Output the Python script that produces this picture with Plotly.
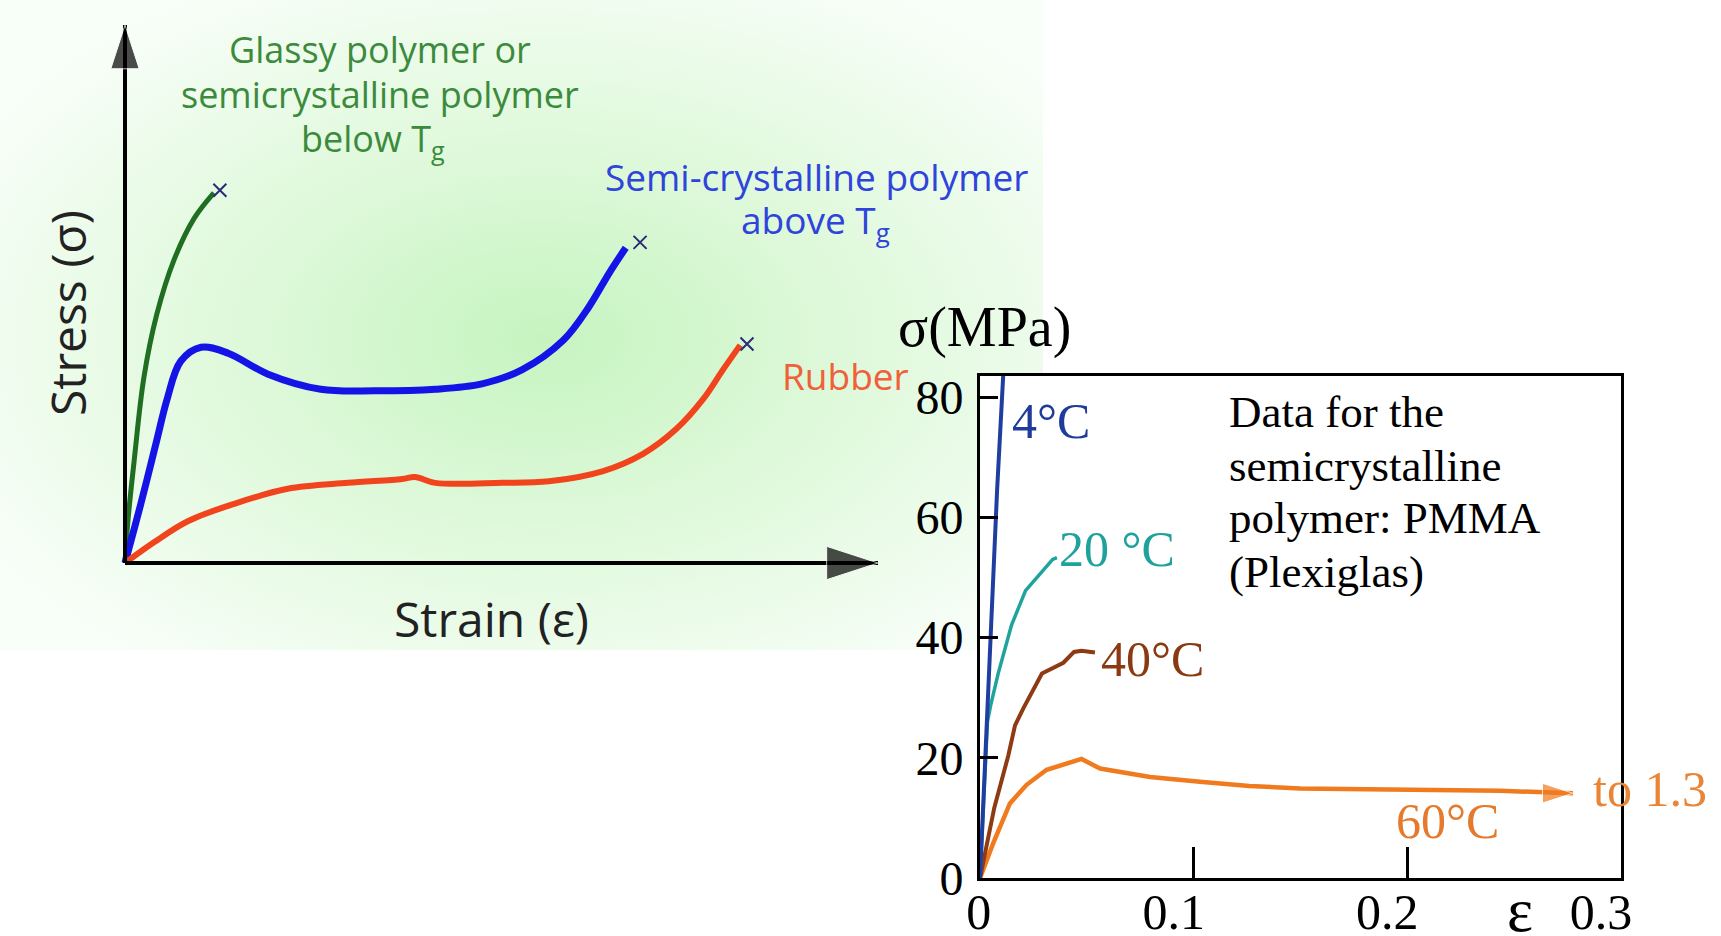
import base64
import plotly.graph_objects as go

W, H = 1721, 936

# ---------------- left schematic: stress-strain (arbitrary units, 0-100) ----------------
glassy_x = [0, 0.4, 1.2, 2.5, 4.2, 6.5, 9.2, 11.8]
glassy_y = [0, 8.0, 18.8, 34.4, 46.1, 56.3, 64.1, 68.8]
semi_x = [0, 2.1, 4.2, 5.6, 7.4, 10.1, 13.7, 19.0, 26.0, 33.2, 41.2, 47.4, 52.7, 58.2, 61.6, 64.3, 66.5]
semi_y = [0, 11.0, 22.7, 30.5, 37.5, 40.1, 39.0, 35.1, 32.3, 32.0, 32.3, 33.3, 35.9, 41.4, 47.6, 53.9, 58.6]
rubber_x = [0, 3.9, 8.4, 14.5, 21.6, 29.6, 36.8, 38.5, 41.2, 50.1, 56.3, 63.5, 68.8, 73.2, 76.8, 79.4, 81.7]
rubber_y = [0, 3.9, 7.8, 11.0, 13.8, 14.9, 15.6, 16.0, 14.9, 14.9, 15.2, 17.1, 20.3, 24.9, 30.5, 35.9, 40.5]
break_x = [12.6, 68.4, 82.6]
break_y = [69.3, 59.6, 40.7]
axis_len = [0, 100]

# ---------------- right chart: PMMA data ----------------
t4_x = [0, 0.0080, 0.0110]
t4_y = [0, 64.5, 84.5]
t20_x = [0, 0.0035, 0.0051, 0.0085, 0.0116, 0.0148, 0.0213, 0.0281, 0.0340, 0.0360]
t20_y = [0, 26.0, 28.9, 34.0, 38.0, 42.1, 47.8, 50.6, 53.0, 53.3]
t40_x = [0, 0.0067, 0.0132, 0.0164, 0.0204, 0.0290, 0.0390, 0.0440, 0.0475, 0.0538]
t40_y = [0, 11.7, 20.3, 25.4, 28.3, 34.0, 35.8, 37.6, 37.8, 37.5]
t60_x = [0, 0.0062, 0.0140, 0.0218, 0.0312, 0.0437, 0.0475, 0.0562, 0.0680, 0.0796,
         0.1030, 0.1260, 0.1498, 0.2000, 0.2434, 0.2775]
t60_y = [0, 5.8, 12.4, 15.5, 18.0, 19.3, 19.8, 18.2, 17.4, 16.8,
         16.0, 15.3, 14.9, 14.6, 14.5, 14.1]
x_ticks = [0, 0.1, 0.2, 0.3]
x_ticklabels = ["\u00a0\u00a0\u00a00", "0.1", "0.2", "0.3"]
y_ticks = [0, 20, 40, 60, 80]
y_ticklabels = ["0", "20", "40", "60", "80"]

SERIF = "Liberation Serif, Times New Roman, serif"
COMIC = "Comic Sans MS, Open Sans, sans-serif"

fig = go.Figure()

# left schematic traces (xaxis2 / yaxis2)
fig.add_trace(go.Scatter(x=glassy_x, y=glassy_y, mode="lines", line=dict(color="#1f6e22", width=5, shape="spline"),
                         xaxis="x2", yaxis="y2", hoverinfo="skip"))
fig.add_trace(go.Scatter(x=semi_x, y=semi_y, mode="lines", line=dict(color="#1414e6", width=7, shape="spline"),
                         xaxis="x2", yaxis="y2", hoverinfo="skip"))
fig.add_trace(go.Scatter(x=rubber_x, y=rubber_y, mode="lines", line=dict(color="#f2441c", width=6, shape="spline"),
                         xaxis="x2", yaxis="y2", hoverinfo="skip"))
fig.add_trace(go.Scatter(x=break_x, y=break_y, mode="markers",
                         marker=dict(symbol="x-thin", size=13, line=dict(color="#2a2a78", width=2)),
                         xaxis="x2", yaxis="y2", hoverinfo="skip"))
# axes with arrows
fig.add_trace(go.Scatter(x=[0, 0], y=axis_len, mode="lines+markers", line=dict(color="black", width=4),
                         marker=dict(symbol=["circle", "arrow"], size=[0, 46], color="black", angle=[0, 0]),
                         xaxis="x2", yaxis="y2", hoverinfo="skip", cliponaxis=False))
fig.add_trace(go.Scatter(x=axis_len, y=[0, 0], mode="lines+markers", line=dict(color="black", width=4),
                         marker=dict(symbol=["circle", "arrow"], size=[0, 54], color="black", angle=[0, 90]),
                         xaxis="x2", yaxis="y2", hoverinfo="skip", cliponaxis=False))

# right chart traces
n60 = len(t60_x)
fig.add_trace(go.Scatter(x=t60_x, y=t60_y, mode="lines+markers", line=dict(color="#f07a1e", width=4.5),
                         marker=dict(symbol=["circle"] * (n60 - 1) + ["arrow"],
                                     size=[0] * (n60 - 1) + [32], color="#f07a1e",
                                     angle=[0] * (n60 - 1) + [90]),
                         hoverinfo="skip"))
fig.add_trace(go.Scatter(x=t40_x, y=t40_y, mode="lines", line=dict(color="#8e3a12", width=4), hoverinfo="skip"))
fig.add_trace(go.Scatter(x=t20_x, y=t20_y, mode="lines", line=dict(color="#1fa39c", width=3.5), hoverinfo="skip"))
fig.add_trace(go.Scatter(x=t4_x, y=t4_y, mode="lines", line=dict(color="#1f3ea0", width=4), hoverinfo="skip"))


def px(x, y):
    return x / W, 1 - y / H


def ann(text, x, y, size, color, family, xanchor="center", angle=0):
    ax, ay = px(x, y)
    return dict(text=text, x=ax, y=ay, xref="paper", yref="paper", showarrow=False,
                font=dict(size=size, color=color, family=family), xanchor=xanchor,
                yanchor="middle", textangle=angle)


GREEN_T = "#3c8a3c"
BLUE_T = "#2e44dc"
annotations = [
    ann("Glassy polymer or", 380, 49, 36, GREEN_T, COMIC),
    ann("semicrystalline polymer", 380, 95, 36, GREEN_T, COMIC),
    ann("below T<sub>g</sub>", 373, 140, 36, GREEN_T, COMIC),
    ann("Semi-crystalline polymer", 816, 176, 37, BLUE_T, COMIC),
    ann("above T<sub>g</sub>", 815, 222, 37, BLUE_T, COMIC),
    ann("Rubber", 845, 375, 37, "#f0603a", COMIC),
    ann("Stress (σ)", 68, 313, 48, "#222222", COMIC, angle=-90),
    ann("Strain (ε)", 491, 618, 48, "#222222", COMIC),
    ann("σ(MPa)", 984, 327, 56, "black", SERIF),
    ann("4°C", 1051, 421, 50, "#1f3c9a", SERIF),
    ann("20 °C", 1117, 549, 50, "#1fa29b", SERIF),
    ann("40°C", 1152, 659, 50, "#8a3a12", SERIF),
    ann("60°C", 1447, 821, 50, "#e57a2c", SERIF),
    ann("to 1.3", 1650, 789, 50, "#ea8536", SERIF),
    ann("Data for the", 1227, 412, 45, "black", SERIF, xanchor="left"),
    ann("semicrystalline", 1227, 466, 45, "black", SERIF, xanchor="left"),
    ann("polymer: PMMA", 1227, 518, 45, "black", SERIF, xanchor="left"),
    ann("(Plexiglas)", 1227, 572, 45, "black", SERIF, xanchor="left"),
    ann("ε", 1520, 910, 62, "black", SERIF),
]

svg = ('<svg xmlns="http://www.w3.org/2000/svg" width="1043" height="650" viewBox="0 0 1043 650" '
       'preserveAspectRatio="none"><defs><radialGradient id="g" cx="0.52" cy="0.52" r="0.62">'
       '<stop offset="0" stop-color="rgb(198,244,192)"/>'
       '<stop offset="0.5" stop-color="rgb(224,249,220)"/>'
       '<stop offset="1" stop-color="rgb(248,254,248)"/>'
       '</radialGradient></defs><rect width="1043" height="650" fill="url(#g)"/></svg>')
svg_uri = "data:image/svg+xml;base64," + base64.b64encode(svg.encode()).decode()

# right plot area in pixels: x 980..1621, y 376..878
rx0, rx1 = px(980, 0)[0], px(1621, 0)[0]
ry0, ry1 = px(0, 878)[1], px(0, 376)[1]

fig.update_layout(
    width=W, height=H, autosize=False,
    margin=dict(l=0, r=0, t=0, b=0, pad=0),
    paper_bgcolor="white", plot_bgcolor="rgba(0,0,0,0)",
    showlegend=False,
    xaxis=dict(domain=[rx0, rx1], range=[0, 0.3], tickmode="array", tickvals=x_ticks, ticktext=x_ticklabels,
               ticks="inside", ticklen=31, tickwidth=3, tickcolor="black",
               showline=True, linewidth=3, linecolor="black", mirror=True,
               showgrid=False, zeroline=False, automargin=False,
               tickfont=dict(family=SERIF, size=50, color="black"),
               ticklabelstandoff=-12, ticklabelshift=-20),
    yaxis=dict(domain=[ry0, ry1], range=[0, 83.5], tickmode="array", tickvals=y_ticks, ticktext=y_ticklabels,
               ticks="inside", ticklen=18, tickwidth=3, tickcolor="black",
               showline=True, linewidth=3, linecolor="black", mirror=True,
               showgrid=False, zeroline=False, automargin=False,
               tickfont=dict(family=SERIF, size=48, color="black"),
               ticklabelstandoff=4),
    xaxis2=dict(domain=[0, 1000 / W], range=[-16.6, 116.2], visible=False, anchor="y2", automargin=False),
    yaxis2=dict(domain=[1 - 650 / H, 1], range=[-16.17, 104.65], visible=False, anchor="x2", automargin=False),
    annotations=annotations,
    images=[dict(source=svg_uri, xref="paper", yref="paper", x=0, y=1, sizex=1043 / W, sizey=650 / H,
                 xanchor="left", yanchor="top", sizing="stretch", layer="below")],
    shapes=[dict(type="rect", xref="x domain", yref="y domain", x0=0, x1=1, y0=0, y1=1,
                 fillcolor="white", line=dict(width=0), layer="below")],
)

fig.write_html("out.html", config={"displayModeBar": False},
               post_script="document.body.style.margin='0';document.body.style.overflow='hidden';")
